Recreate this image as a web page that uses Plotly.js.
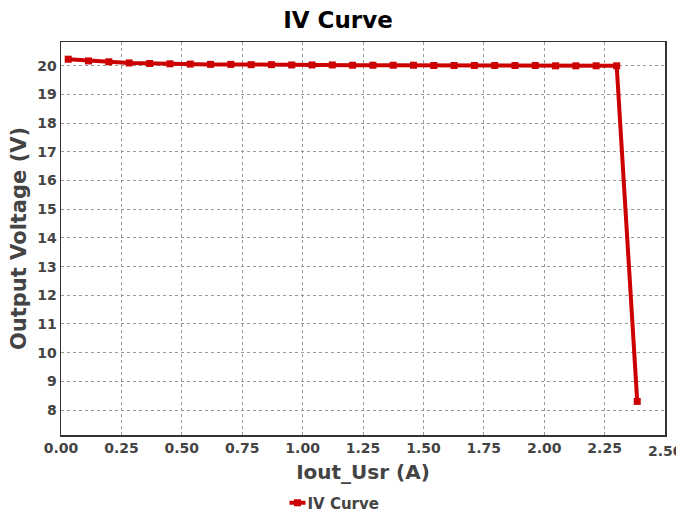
<!DOCTYPE html>
<html>
<head>
<meta charset="utf-8">
<script src="https://cdn.plot.ly/plotly-3.0.1.min.js"></script>
<style>html,body{margin:0;padding:0;background:#fff;}#chart{width:676px;height:513px;overflow:hidden;}</style>
</head>
<body>
<div id="chart"></div>
<script>
const currentA = [0.030, 0.114, 0.198, 0.282, 0.367, 0.451, 0.535, 0.619, 0.703, 0.787,
                  0.871, 0.955, 1.039, 1.123, 1.207, 1.291, 1.375, 1.459, 1.543, 1.627,
                  1.711, 1.795, 1.879, 1.963, 2.047, 2.131, 2.215, 2.300, 2.385];
const voltageV = [20.23, 20.17, 20.14, 20.10, 20.08, 20.07, 20.06, 20.05, 20.05, 20.04,
                  20.04, 20.03, 20.03, 20.03, 20.02, 20.02, 20.02, 20.02, 20.01, 20.01,
                  20.01, 20.01, 20.01, 20.01, 20.00, 20.00, 20.00, 20.00, 8.30];
const xTicks = [0, 0.25, 0.5, 0.75, 1.0, 1.25, 1.5, 1.75, 2.0, 2.25, 2.5];
const xTickText = ['0.00','0.25','0.50','0.75','1.00','1.25','1.50','1.75','2.00','2.25','2.50'];
const yTicks = [8, 9, 10, 11, 12, 13, 14, 15, 16, 17, 18, 19, 20];
const seriesName = 'IV Curve';

const F = 'DejaVu Sans, Verdana, sans-serif';
const tickFont = {family: F, size: 14, weight: 'bold', color: '#444444'};
const trace = {
  x: currentA, y: voltageV, type: 'scatter', mode: 'lines+markers', name: seriesName,
  line: {color: '#cc0000', width: 4},
  marker: {color: '#cc0000', symbol: 'square', size: 7}
};
const lastIdx = xTicks.length - 1;
const layout = {
  width: 676, height: 513,
  margin: {l: 61, r: 11, t: 42, b: 78, autoexpand: false},
  paper_bgcolor: '#ffffff', plot_bgcolor: '#ffffff',
  title: {text: 'IV Curve', x: 0.5, xanchor: 'center', y: 0.962, yanchor: 'middle',
          font: {family: F, size: 23, weight: 'bold', color: '#000000'}},
  xaxis: {
    range: [0, 2.5], tickvals: xTicks.slice(0, lastIdx), ticktext: xTickText.slice(0, lastIdx), ticks: '',
    showgrid: true, gridcolor: '#999999', griddash: 'dot', gridwidth: 1,
    zeroline: false, showline: true, mirror: true, linecolor: '#333333', linewidth: 1.5,
    automargin: false,
    tickfont: tickFont,
    title: {text: 'Iout_Usr (A)', standoff: 9, font: {family: F, size: 20, weight: 'bold', color: '#444444'}}
  },
  yaxis: {
    range: [7.13, 20.83], tickvals: yTicks, ticks: '',
    showgrid: true, gridcolor: '#999999', griddash: 'dot', gridwidth: 1,
    zeroline: false, showline: true, mirror: true, linecolor: '#333333', linewidth: 1.5,
    automargin: false,
    tickfont: tickFont,
    title: {text: 'Output Voltage (V)', standoff: 5, font: {family: F, size: 21, weight: 'bold', color: '#444444'}}
  },
  annotations: [{
    x: xTicks[lastIdx], xref: 'x', y: 0, yref: 'paper', yshift: -16,
    xanchor: 'center', yanchor: 'middle', showarrow: false,
    text: xTickText[lastIdx], font: tickFont
  }],
  showlegend: true,
  legend: {orientation: 'h', x: 0.5, xanchor: 'center', y: -0.173, yanchor: 'middle',
           font: {family: F, size: 15, weight: 'bold', color: '#444444'}}
};
Plotly.newPlot('chart', [trace], layout, {displayModeBar: false, staticPlot: true}).then(function (gd) {
  const leg = gd.querySelector('g.legend');
  if (!leg) return;
  const line = leg.querySelector('g.legendlines path');
  if (line) line.setAttribute('d', 'M12,0h16');
  const txt = leg.querySelector('text.legendtext');
  if (txt) txt.setAttribute('x', '30');
  const pt = leg.querySelector('g.legendsymbols path');
  if (!pt) return;
  const r = pt.getBoundingClientRect();
  const cx = r.left + r.width / 2;
  const dx = 297.5 - cx;
  const tr = leg.getAttribute('transform') || '';
  const m = /translate\(\s*([-\d.]+)[ ,]+([-\d.]+)\s*\)/.exec(tr);
  if (m) leg.setAttribute('transform', 'translate(' + (parseFloat(m[1]) + dx) + ',' + m[2] + ')');
});
</script>
</body>
</html>
